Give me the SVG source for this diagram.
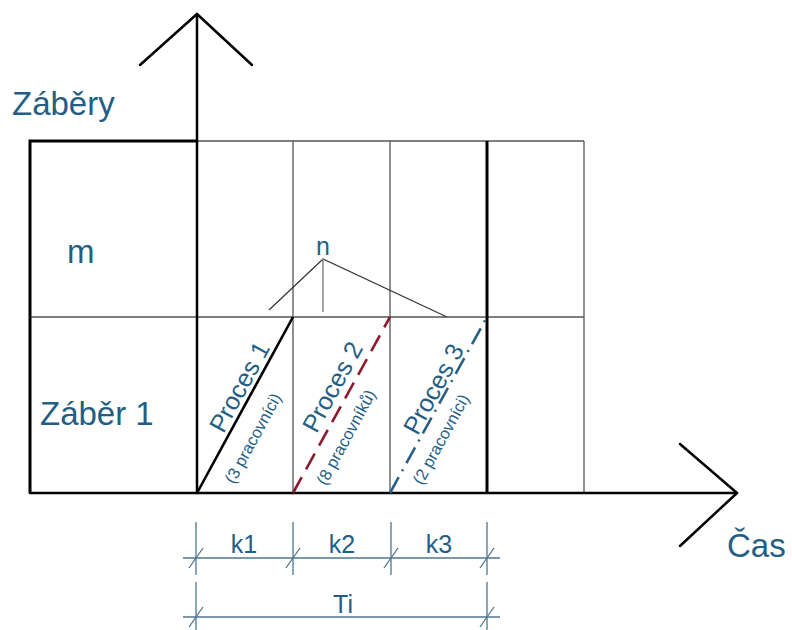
<svg xmlns="http://www.w3.org/2000/svg" width="792" height="630" viewBox="0 0 792 630">
<style>
.thin{stroke:#555;stroke-width:1.3;fill:none}
.thick{stroke:#000;stroke-width:3;fill:none}
.axis{stroke:#000;stroke-width:2.5;fill:none;stroke-linecap:round;stroke-linejoin:round}
.dim{stroke:#4f7590;stroke-width:1.3;fill:none}
.lbl{font-family:"Liberation Sans",Arial,sans-serif;fill:#245e85}
.big{font-size:33px}
.med{font-size:25px}
.sm{font-size:16.5px}
</style>
<rect width="792" height="630" fill="#fff"/>
<g id="grid">
<line class="thin" x1="197" y1="141" x2="584" y2="141"/>
<line class="thin" x1="30" y1="317" x2="584" y2="317"/>
<line class="thin" x1="293" y1="141" x2="293" y2="493"/>
<line class="thin" x1="390" y1="141" x2="390" y2="493"/>
<line class="thin" x1="584" y1="141" x2="584" y2="493"/>
<line class="thick" x1="487" y1="141" x2="487" y2="493"/>
<polyline class="thick" points="30,493 30,141 197,141"/>
</g>
<g id="axes">
<line class="axis" x1="197" y1="14" x2="197" y2="493"/>
<polyline class="axis" points="140,65 197,14 252,65"/>
<line class="axis" x1="30" y1="493" x2="737" y2="493"/>
<polyline class="axis" points="680,444 737,493 680,546"/>
</g>
<g id="n-brace">
<polyline fill="none" stroke="#333" stroke-width="1.2" points="269,310 323,259 447,317"/>
<line stroke="#888" stroke-width="1.5" x1="323" y1="259" x2="323" y2="312"/>
<text class="lbl" x="323" y="255" text-anchor="middle" font-size="25">n</text>
</g>
<g id="processes">
<line stroke="#000" stroke-width="2.6" x1="197" y1="493" x2="293" y2="317"/>
<line stroke="#8b1a2e" stroke-width="2.6" stroke-dasharray="18 9" x1="293" y1="493" x2="390" y2="317"/>
<line stroke="#2a5f85" stroke-width="2.6" stroke-dasharray="18 7 2 7" x1="390" y1="493" x2="487" y2="317"/>
</g>
<g id="process-labels">
<text class="lbl med" text-anchor="middle" transform="translate(247,391) rotate(-61.4)">Proces 1</text>
<text class="lbl sm" text-anchor="middle" transform="translate(258,441) rotate(-61.4)">(3 pracovníci)</text>
<text class="lbl med" text-anchor="middle" transform="translate(340,391) rotate(-61.4)">Proces 2</text>
<text class="lbl sm" text-anchor="middle" transform="translate(351,440) rotate(-61.4)">(8 pracovníků)</text>
<text class="lbl med" text-anchor="middle" transform="translate(441,393) rotate(-61.4)">Proces 3</text>
<text class="lbl sm" text-anchor="middle" transform="translate(446,442) rotate(-61.4)">(2 pracovníci)</text>
</g>
<g id="labels">
<text class="lbl big" x="12" y="115">Záběry</text>
<text class="lbl big" x="67" y="263">m</text>
<text class="lbl big" x="40" y="425">Záběr 1</text>
<text class="lbl big" x="727" y="557">Čas</text>
</g>
<g id="dimensions">
<line class="dim" x1="183" y1="558" x2="500" y2="558"/>
<line class="dim" x1="196" y1="522" x2="196" y2="575"/>
<line class="dim" x1="293" y1="522" x2="293" y2="575"/>
<line class="dim" x1="391" y1="522" x2="391" y2="575"/>
<line class="dim" x1="487" y1="522" x2="487" y2="575"/>
<path class="dim" d="M189,568 L203,548 M286,568 L300,548 M384,568 L398,548 M480,568 L494,548"/>
<line class="dim" x1="183" y1="617" x2="500" y2="617"/>
<line class="dim" x1="196" y1="582" x2="196" y2="630"/>
<line class="dim" x1="487" y1="582" x2="487" y2="630"/>
<path class="dim" d="M189,627 L203,607 M480,627 L494,607"/>
<text class="lbl med" x="244" y="553" text-anchor="middle">k1</text>
<text class="lbl med" x="342" y="553" text-anchor="middle">k2</text>
<text class="lbl med" x="439" y="553" text-anchor="middle">k3</text>
<text class="lbl med" x="343" y="613" text-anchor="middle">Ti</text>
</g>
</svg>
